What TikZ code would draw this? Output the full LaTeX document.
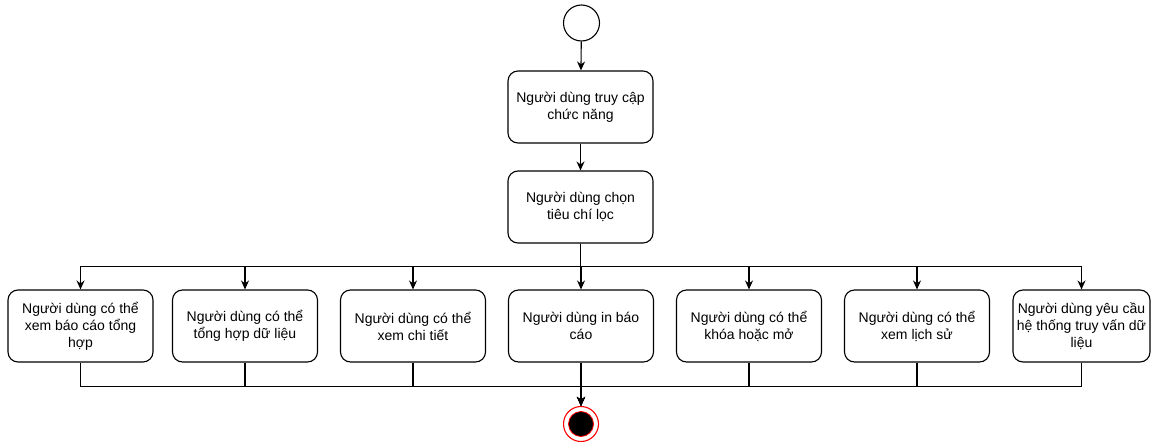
\documentclass[tikz,border=0pt]{standalone}
\usepackage{fontspec}
\setmainfont{Liberation Sans}
\usetikzlibrary{arrows.meta}

\begin{document}
\begin{tikzpicture}[x=1pt, y=-1pt, font=\fontsize{14}{17}\selectfont,
  act/.style={draw, rounded corners=10pt, line width=1.1pt, minimum height=72pt, align=center, inner sep=2pt},
  flow/.style={line width=1.1pt, -{Stealth[length=9pt, width=8pt]}}]
\useasboundingbox (0,0) rectangle (1152,442);
\node[circle, draw, line width=1.1pt, minimum size=36pt, inner sep=0pt] (start) at (581.5,23) {};
\node[act, minimum width=145pt] (access) at (580.5,107) {Người dùng truy cập\\chức năng};
\node[act, minimum width=145pt] (filter) at (580.5,207) {Người dùng chọn\\tiêu chí lọc};
\draw[flow] (start) -- (access);
\draw[flow] (access) -- (filter);
% end state
\node[circle, draw=red, line width=1.1pt, minimum size=35pt, inner sep=0pt] (end) at (581,424) {};
\node[circle, fill=black, draw=red, line width=0.8pt, minimum size=25pt, inner sep=0pt] (endin) at (end) {};
\foreach \n/\x/\w/\t in {
  b1/80.5/145/{Người dùng có thể\\xem báo cáo tổng\\hợp},
  b2/245/145/{Người dùng có thể\\tổng hợp dữ liệu},
  b3/413/145/{Người dùng có thể\\xem chi tiết},
  b4/581/145/{Người dùng in báo\\cáo},
  b5/749/145/{Người dùng có thể\\khóa hoặc mở},
  b6/917/145/{Người dùng có thể\\xem lịch sử},
  b7/1081.5/137/{Người dùng yêu cầu\\hệ thống truy vấn dữ\\liệu}} {
  \node[act, minimum width=\w pt] (\n) at (\x,326) {\t};
  \draw[flow] (filter.south) -- ++(0,23) -| (\n.north);
  \draw[flow] (\n.south) -- ++(0,24) -| (end.north);
}
\end{tikzpicture}
\end{document}
